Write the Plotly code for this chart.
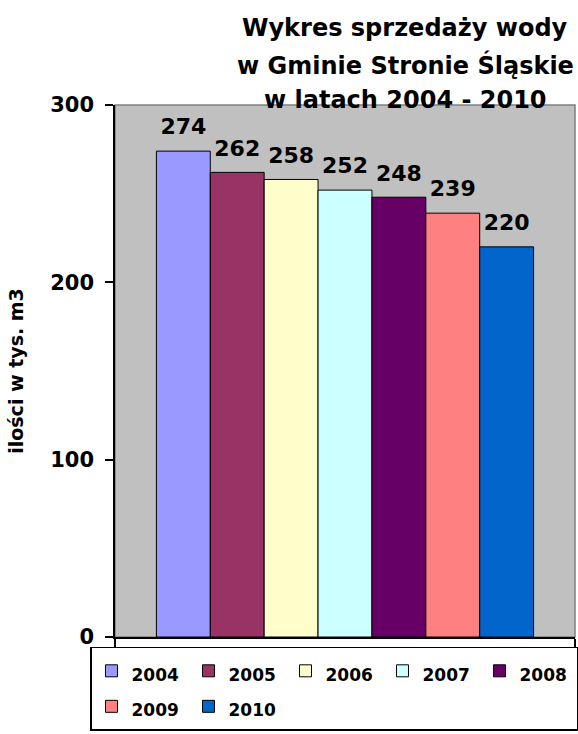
import plotly.graph_objects as go

years = ["2004", "2005", "2006", "2007", "2008", "2009", "2010"]
values = [274, 262, 258, 252, 248, 239, 220]
colors = ["#9999FF", "#993366", "#FFFFCC", "#CCFFFF", "#660066", "#FF8080", "#0066CC"]
title_lines = ["Wykres sprzedaży wody", "w Gminie Stronie Śląskie", "w latach 2004 - 2010"]
y_title = "ilości w tys. m3"
y_ticks = [0, 100, 200, 300]

FONT = "DejaVu Sans, Arial, sans-serif"

fig = go.Figure()
for yr, v, c in zip(years, values, colors):
    fig.add_trace(go.Bar(
        x=[""], y=[v],
        name="<span style='font-size:17px'>" + yr + "</span>",
        marker=dict(color=c, line=dict(color="black", width=1)),
        text=[str(v)], textposition="outside",
        texttemplate="<span style='font-size:22px'>%{y}</span><br> ",
        textfont=dict(family=FONT, size=9, color="black", weight="bold"),
        cliponaxis=False,
    ))

fig.update_layout(
    width=578, height=734,
    margin=dict(l=115, r=3, t=105, b=97),
    paper_bgcolor="white",
    plot_bgcolor="#C0C0C0",
    barmode="group", bargap=0.18, bargroupgap=0,
    font=dict(family=FONT, color="black"),
    showlegend=True,
    legend=dict(
        orientation="h", x=(94 - 115) / 460, xanchor="left", y=-0.018, yanchor="top",
        entrywidth=52, entrywidthmode="pixels",
        bordercolor="black", borderwidth=1.5, bgcolor="white",
        font=dict(family=FONT, size=25, color="black", weight="bold"),
        traceorder="normal",
    ),
    xaxis=dict(
        showticklabels=False, ticks="outside", tickson="boundaries",
        ticklen=9, tickwidth=1.5, tickcolor="black",
        showline=True, linecolor="black", linewidth=1.5,
        showgrid=False, zeroline=False,
    ),
    yaxis=dict(
        range=[0, 300], tickvals=y_ticks,
        ticks="outside", ticklen=8, tickwidth=1.5, tickcolor="black",
        showline=True, linecolor="black", linewidth=1.5,
        showgrid=False, zeroline=False,
        tickfont=dict(family=FONT, size=21, color="black", weight="bold"),
        ticklabelstandoff=7,
        title=dict(text=y_title, font=dict(family=FONT, size=19, weight="bold"), standoff=22),
    ),
)

# grey border on top/right of plot area
fig.add_shape(type="rect", xref="paper", yref="paper", x0=0, x1=1, y0=0, y1=1,
              line=dict(color="#808080", width=1.5), layer="below")

title_y = [28, 65, 100]
for line, py in zip(title_lines, title_y):
    fig.add_annotation(
        text=line, xref="paper", yref="paper",
        x=(405 - 115) / 460, y=1, yshift=105 - py,
        xanchor="center", yanchor="middle", showarrow=False,
        font=dict(family=FONT, size=24, color="black", weight="bold"),
    )

fig.write_html("out.html", config={"displayModeBar": False},
               post_script="document.body.style.margin='0px';")
